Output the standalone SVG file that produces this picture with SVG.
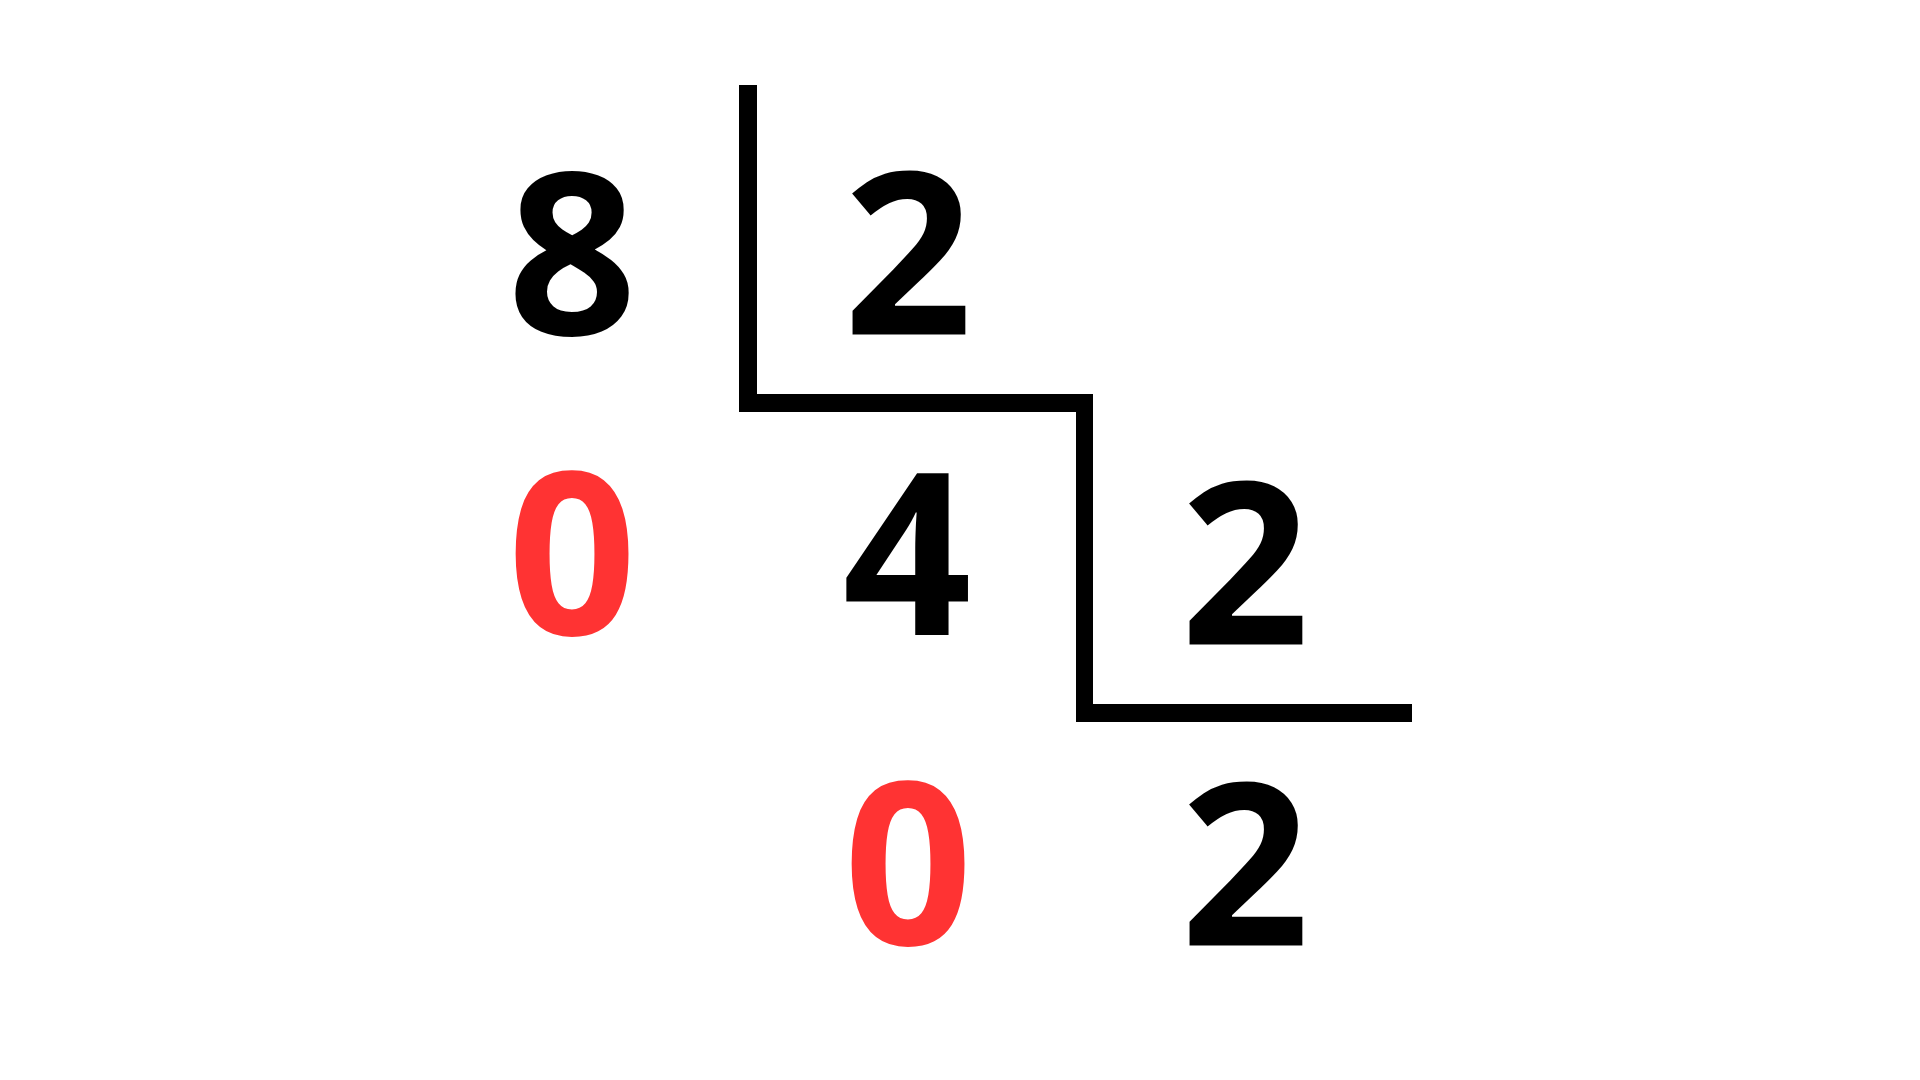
<svg xmlns="http://www.w3.org/2000/svg" width="1920" height="1080" viewBox="0 0 1920 1080">
<style>
.d{font-family:"Open Sans","Liberation Sans",sans-serif;font-weight:700;font-size:226px;text-anchor:middle;fill:#000}
.r{fill:#FF3333}
.ln{fill:#000}
</style>
<rect width="1920" height="1080" fill="#fff"/>
<g id="connectors">
<rect class="ln" x="739" y="85" width="18" height="327"/>
<rect class="ln" x="739" y="394" width="337" height="18"/>
<rect class="ln" x="1076" y="394" width="17" height="328"/>
<rect class="ln" x="1076" y="704" width="336" height="18"/>
</g>
<g id="n8"><text class="d" x="572" y="335">8</text></g>
<g id="n2a"><text class="d" x="908" y="335">2</text></g>
<g id="n0a"><text class="d r" x="572" y="635">0</text></g>
<g id="n4"><text class="d" x="907" y="635">4</text></g>
<g id="n2b"><text class="d" x="1245" y="645">2</text></g>
<g id="n0b"><text class="d r" x="908" y="945">0</text></g>
<g id="n2c"><text class="d" x="1245" y="946">2</text></g>
</svg>
